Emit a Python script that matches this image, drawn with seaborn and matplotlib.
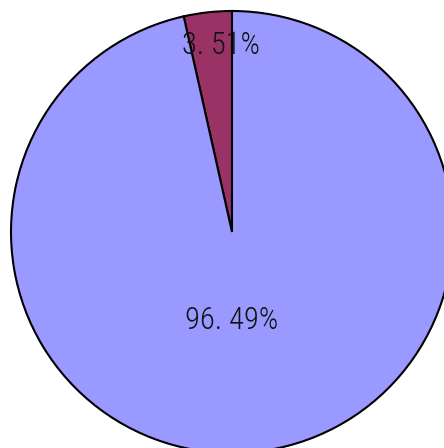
import matplotlib
matplotlib.use('Agg')
from matplotlib import pyplot as plt
import seaborn as sns

labels = ['small', 'large']
shares = [3.51, 96.49]
pct_text = ['3. 51%', '96. 49%']
colors = ['#993366', '#9999FF']

sns.set_theme(style='white')
plt.rcParams['font.family'] = ['Roboto Condensed', 'DejaVu Sans']

fig = plt.figure(figsize=(4.44, 4.48), dpi=100)
# pie centre at (232, 232) px, radius ~221 px
ax = fig.add_axes([11 / 444, -5 / 448, 442 / 444, 442 / 448])
wedges, texts = ax.pie(shares, colors=colors, startangle=90, counterclock=True,
                       labels=pct_text, labeldistance=0.6,
                       wedgeprops=dict(edgecolor='black', linewidth=1.5, clip_on=False),
                       textprops=dict(fontsize=22, fontweight='light', color='#111111',
                                      ha='center', va='center'))
texts[0].set_position((-0.05, 0.845))
texts[1].set_position((0.0, -0.40))
ax.set_xlim(-1, 1)
ax.set_ylim(-1, 1)
ax.set_aspect('equal')
ax.axis('off')

fig.savefig('out.png', dpi=100)
